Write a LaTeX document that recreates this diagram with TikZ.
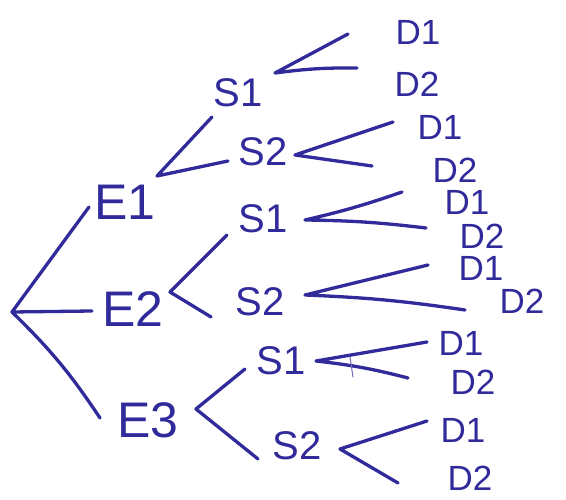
\documentclass[tikz,border=0pt]{standalone}
\usepackage{fontspec}
\setmainfont{Liberation Sans}
\definecolor{ink}{RGB}{48,42,155}
\begin{document}
\begin{tikzpicture}[x=1pt,y=-1pt,
  conn/.style={draw=ink,line width=3.3pt,line cap=round,line join=round},
  tick/.style={draw=ink!70,line width=1pt,line cap=round},
  lbl/.style={text=ink,inner sep=0pt,anchor=center},
  elbl/.style={lbl,font=\fontsize{50}{50}\selectfont},
  slbl/.style={lbl,font=\fontsize{40}{40}\selectfont},
  dlbl/.style={lbl,font=\fontsize{35}{35}\selectfont}]
\useasboundingbox (0,0) rectangle (566,500);
% labels
\node[elbl] (e1) at (125,202) {E1};
\node[elbl] (e2) at (133,309) {E2};
\node[elbl] (e3) at (148,420) {E3};
\node[slbl] (s11) at (238,93) {S1};
\node[slbl] (s12) at (263,152) {S2};
\node[slbl] (s21) at (263,219) {S1};
\node[slbl] (s22) at (260,302) {S2};
\node[slbl] (s31) at (281,361) {S1};
\node[slbl] (s32) at (297,446) {S2};
\node[dlbl] (d111) at (418,32) {D1};
\node[dlbl] (d112) at (417,84) {D2};
\node[dlbl] (d121) at (440,127) {D1};
\node[dlbl] (d122) at (455,170) {D2};
\node[dlbl] (d211) at (467,202) {D1};
\node[dlbl] (d212) at (482,236) {D2};
\node[dlbl] (d221) at (481,268) {D1};
\node[dlbl] (d222) at (522,301) {D2};
\node[dlbl] (d311) at (461,343) {D1};
\node[dlbl] (d312) at (473,382) {D2};
\node[dlbl] (d321) at (463,430) {D1};
\node[dlbl] (d322) at (470,478) {D2};
% fork points and line ends
\coordinate (root) at (12,312);
\coordinate (e1in) at (89,207);
\coordinate (e2in) at (92,311);
\coordinate (e3in) at (100,418);
\coordinate (f1) at (157,176);
\coordinate (s11in) at (212,117);
\coordinate (s12in) at (228,161);
\coordinate (f2) at (170,292);
\coordinate (s21in) at (227,235);
\coordinate (s22in) at (211,317);
\coordinate (f3) at (196,409);
\coordinate (s31in) at (245,369);
\coordinate (s32in) at (258,459);
\coordinate (g11) at (275,73);
\coordinate (d111in) at (348,34);
\coordinate (d112in) at (357,68);
\coordinate (g12) at (295,155);
\coordinate (d121in) at (393,122);
\coordinate (d122in) at (372,166);
\coordinate (g21) at (305,220);
\coordinate (d211in) at (402,192);
\coordinate (d212in) at (426,228);
\coordinate (g22) at (305,295);
\coordinate (d221in) at (428,265);
\coordinate (d222in) at (465,310);
\coordinate (g31) at (316,361);
\coordinate (d311in) at (427,342);
\coordinate (d312in) at (408,378);
\coordinate (g32) at (340,449);
\coordinate (d321in) at (427,421);
\coordinate (d322in) at (398,483);
\coordinate (tka) at (350,357);
\coordinate (tkb) at (353,377);
% connectors
\draw[conn] (e1in) -- (root) -- (e2in);
\draw[conn] (root) to[bend left=6] (e3in);
\draw[conn] (s11in) -- (f1) -- (s12in);
\draw[conn] (s21in) -- (f2) -- (s22in);
\draw[conn] (s31in) -- (f3) -- (s32in);
\draw[conn] (d111in) -- (g11) to[bend left=4] (d112in);
\draw[conn] (d121in) -- (g12) -- (d122in);
\draw[conn] (d211in) to[bend left=3] (g21) to[bend left=3] (d212in);
\draw[conn] (d221in) -- (g22) to[bend left=3] (d222in);
\draw[conn] (d311in) -- (g31) to[bend left=4] (d312in);
\draw[conn] (d321in) -- (g32) -- (d322in);
\draw[tick] (tka) -- (tkb);
\end{tikzpicture}
\end{document}
